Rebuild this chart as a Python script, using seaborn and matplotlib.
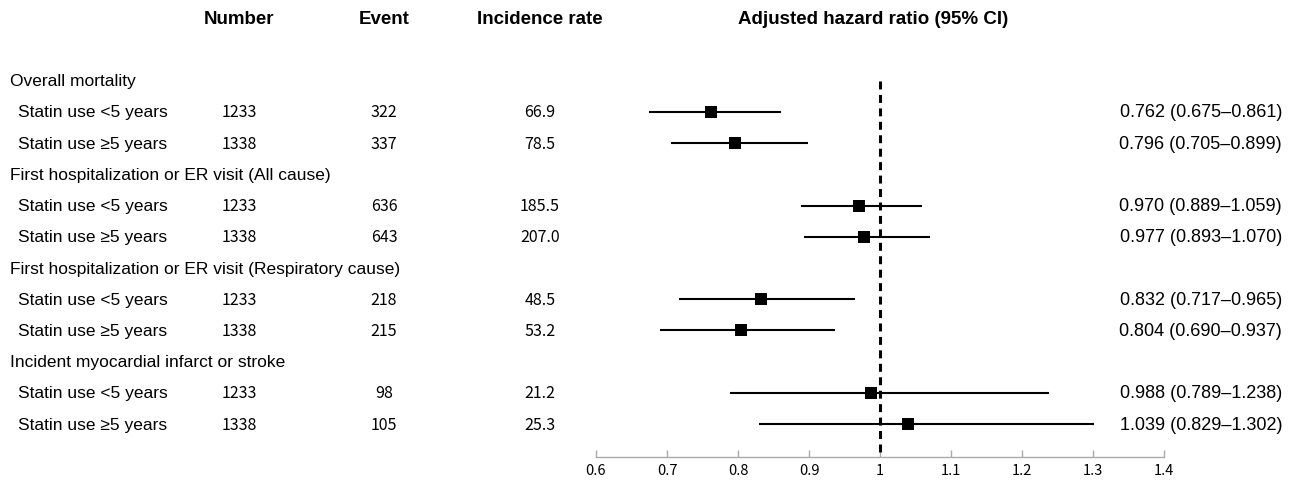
import pandas as pd
import numpy as np
import matplotlib.pyplot as plt
import seaborn as sns
from matplotlib.transforms import blended_transform_factory

# data
groups = ['Overall mortality',
          'First hospitalization or ER visit (All cause)',
          'First hospitalization or ER visit (Respiratory cause)',
          'Incident myocardial infarct or stroke']
sub_labels = ['Statin use <5 years', 'Statin use \u22655 years']
number = [1233, 1338, 1233, 1338, 1233, 1338, 1233, 1338]
event = [322, 337, 636, 643, 218, 215, 98, 105]
incidence = ['66.9', '78.5', '185.5', '207.0', '48.5', '53.2', '21.2', '25.3']
hr = [0.762, 0.796, 0.970, 0.977, 0.832, 0.804, 0.988, 1.039]
ci_low = [0.675, 0.705, 0.889, 0.893, 0.717, 0.690, 0.789, 0.829]
ci_high = [0.861, 0.899, 1.059, 1.070, 0.965, 0.937, 1.238, 1.302]
x_ticks = [0.6, 0.7, 0.8, 0.9, 1, 1.1, 1.2, 1.3, 1.4]
x_tick_labels = ['0.6', '0.7', '0.8', '0.9', '1', '1.1', '1.2', '1.3', '1.4']

# row positions: group heading then two sub rows
rows = []
head_rows = []
r = 0
for g in groups:
    head_rows.append(r)
    rows.extend([r + 1, r + 2])
    r += 3

df = pd.DataFrame({'row': rows, 'hr': hr, 'lo': ci_low, 'hi': ci_high})

sns.set_style('white')
plt.rcParams['font.family'] = ['Liberation Sans', 'DejaVu Sans']
plt.rcParams['text.color'] = 'black'
plt.rcParams['xtick.color'] = 'black'
num_font = ['Noto Sans CJK KR', 'DejaVu Sans']

fig = plt.figure(figsize=(12.95, 4.85), dpi=100)
ax = fig.add_axes([596 / 1295, 1 - 458 / 485, (1164 - 596) / 1295, (458 - 66) / 485])

ax.hlines(df['row'], df['lo'], df['hi'], color='black', lw=1.5, zorder=2)
sns.scatterplot(data=df, x='hr', y='row', marker='s', s=70, color='black',
                edgecolor='black', linewidth=0, ax=ax, zorder=3)
ax.vlines(1, 0, 12.05, color='black', lw=2.2, linestyles=(0, (2.6, 1.8)), zorder=1)

ax.set_xlim(0.6, 1.4)
ax.set_ylim(12.05, -0.5)
ax.set_xticks(x_ticks)
ax.set_xticklabels(x_tick_labels, fontsize=10.5, family=num_font, color='black')
ax.set_yticks([])
ax.set_xlabel('')
ax.set_ylabel('')
for s in ['top', 'left', 'right']:
    ax.spines[s].set_visible(False)
ax.spines['bottom'].set_color('#aaaaaa')
ax.spines['bottom'].set_linewidth(1)
ax.tick_params(axis='x', bottom=True, direction='in', length=5, color='#aaaaaa',
               width=1, pad=4)

tr = blended_transform_factory(fig.transFigure, ax.transData)
W = 1295

# headers
hy = 1 - 20 / 485
hfont = dict(fontsize=13.5, fontweight='bold', ha='center', va='center')
fig.text(239 / W, hy, 'Number', **hfont)
fig.text(384 / W, hy, 'Event', **hfont)
fig.text(540 / W, hy, 'Incidence rate', **hfont)
fig.text(873 / W, hy, 'Adjusted hazard ratio (95% CI)', **hfont)

fs = 12.5
for g, hrw in zip(groups, head_rows):
    fig.text(10 / W, hrw, g, transform=tr, fontsize=fs, ha='left', va='center')

for i, rw in enumerate(rows):
    fig.text(18 / W, rw, sub_labels[i % 2], transform=tr, fontsize=fs, ha='left', va='center')
    fig.text(239 / W, rw, str(number[i]), transform=tr, fontsize=11.5, ha='center',
             va='center', family=num_font)
    fig.text(384 / W, rw, str(event[i]), transform=tr, fontsize=11.5, ha='center',
             va='center', family=num_font)
    fig.text(540 / W, rw, incidence[i], transform=tr, fontsize=11.5, ha='center',
             va='center', family=num_font)
    fig.text(1282 / W, rw, f'{hr[i]:.3f} ({ci_low[i]:.3f}\u2013{ci_high[i]:.3f})',
             transform=tr, fontsize=13, ha='right', va='center')

fig.savefig('out.png', dpi=100)
